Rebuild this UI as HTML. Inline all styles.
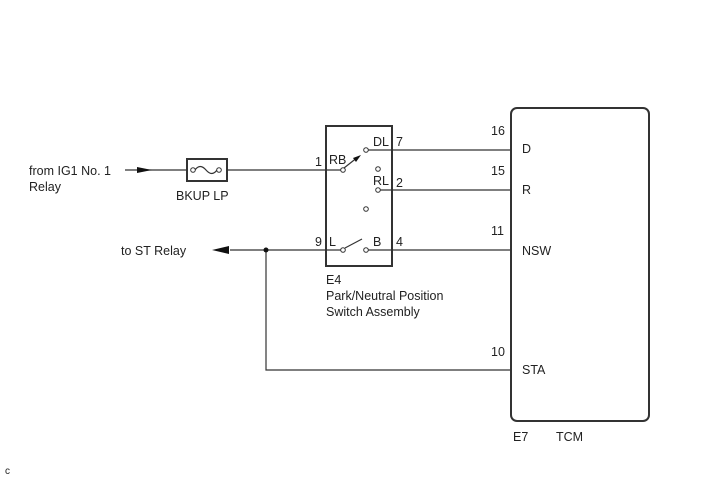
<!DOCTYPE html>
<html><head><meta charset="utf-8"><style>
body{margin:0;background:#fff}
svg text{font-family:"Liberation Sans",Arial,sans-serif;font-size:12.5px;fill:#222}
</style></head><body>
<svg width="713" height="481" viewBox="0 0 713 481" xmlns="http://www.w3.org/2000/svg">
<g stroke="#333" stroke-width="1.2" fill="none">
<rect x="326" y="126" width="66" height="140" stroke-width="2"/>
<rect x="511" y="108" width="138" height="313" rx="6" stroke-width="2"/>
<rect x="187" y="159" width="40" height="22" stroke-width="2"/>
<line x1="125" y1="170" x2="187" y2="170"/>
<line x1="227" y1="170" x2="341" y2="170"/>
<path d="M195,170 q5,-7 11,0 t11,0"/>
<line x1="368" y1="150" x2="511" y2="150"/>
<line x1="380" y1="190" x2="511" y2="190"/>
<line x1="230" y1="250" x2="341" y2="250"/>
<line x1="368" y1="250" x2="511" y2="250"/>
<polyline points="266,250 266,370 511,370"/>
<line x1="344" y1="168" x2="358" y2="157"/>
<line x1="345" y1="248" x2="362" y2="239"/>
</g>
<g fill="#fff" stroke="#333" stroke-width="1">
<circle cx="343" cy="170" r="2.3"/><circle cx="366" cy="150" r="2.3"/>
<circle cx="378" cy="169" r="2.3"/><circle cx="378" cy="190" r="2.3"/>
<circle cx="366" cy="209" r="2.3"/><circle cx="343" cy="250" r="2.3"/>
<circle cx="366" cy="250" r="2.3"/>
<circle cx="193" cy="170" r="2.3"/><circle cx="219" cy="170" r="2.3"/>
</g>
<g fill="#111">
<polygon points="137,167 152,170 137,173"/>
<polygon points="212,250 229,246 229,254"/>
<polygon points="361,155 353,158 356,162"/>
<circle cx="266" cy="250" r="2.5"/>
</g>
<text x="29" y="175">from IG1 No. 1</text>
<text x="29" y="191">Relay</text>
<text x="176" y="200">BKUP LP</text>
<text x="121" y="255">to ST Relay</text>
<text x="315" y="166">1</text><text x="329" y="164">RB</text>
<text x="373" y="146">DL</text><text x="396" y="146">7</text>
<text x="373" y="185">RL</text><text x="396" y="187">2</text>
<text x="315" y="246">9</text><text x="329" y="246">L</text>
<text x="373" y="246">B</text><text x="396" y="246">4</text>
<text x="326" y="284">E4</text>
<text x="326" y="300">Park/Neutral Position</text>
<text x="326" y="316">Switch Assembly</text>
<text x="491" y="135">16</text><text x="522" y="153">D</text>
<text x="491" y="175">15</text><text x="522" y="194">R</text>
<text x="491" y="235">11</text><text x="522" y="255">NSW</text>
<text x="491" y="356">10</text><text x="522" y="374">STA</text>
<text x="513" y="441">E7</text><text x="556" y="441">TCM</text>
<text x="5" y="474" style="font-size:10px">c</text>
</svg>
</body></html>
